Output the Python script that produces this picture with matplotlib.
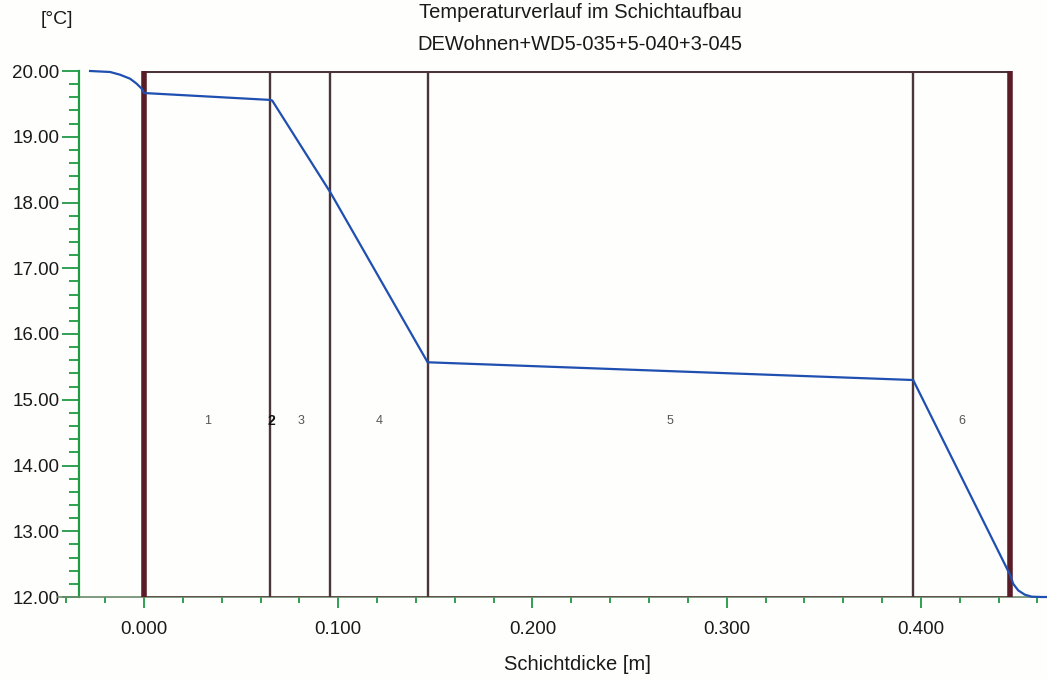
import matplotlib
matplotlib.use("Agg")
import matplotlib.pyplot as plt
from matplotlib.ticker import MultipleLocator, FormatStrFormatter

plt.rcParams['font.family'] = ['Liberation Sans', 'DejaVu Sans']

# ---- data ----
title = "Temperaturverlauf im Schichtaufbau"
subtitle = "DEWohnen+WD5-035+5-040+3-045"
x_label = "Schichtdicke [m]"
y_unit = "[°C]"

layer_bounds = [0.000, 0.065, 0.066, 0.096, 0.146, 0.396, 0.446]
layer_names = ["1", "2", "3", "4", "5", "6"]
label_temp = 14.67

# temperature curve
curve_x = [-0.0278, -0.0175, -0.0124, -0.0072, -0.0038, -0.0012, 0.000,
           0.065, 0.066, 0.096, 0.146, 0.396, 0.446,
           0.4475, 0.4501, 0.4535, 0.4570, 0.4621, 0.466]
curve_t = [20.00, 19.985, 19.944, 19.883, 19.807, 19.731, 19.665,
           19.56, 19.55, 18.15, 15.57, 15.30, 12.33,
           12.20, 12.10, 12.035, 12.005, 12.00, 12.00]

W, H = 1047, 679
fig = plt.figure(figsize=(W / 100, H / 100), dpi=100)
fig.patch.set_facecolor('#fefefc')
ax = fig.add_axes([58 / W, (H - 597) / H, (W - 58) / W, (597 - 71) / H])
ax.set_facecolor('#fefefc')
ax.set_xlim(-0.0443, 0.4649)
ax.set_ylim(12, 20)

green = '#1f9a45'
for s in ['top', 'right']:
    ax.spines[s].set_visible(False)
ax.spines['left'].set_position(('data', -0.0335))
ax.spines['left'].set_color(green)
ax.spines['left'].set_linewidth(1.6)
ax.spines['bottom'].set_color('#6a8a6a')
ax.spines['bottom'].set_linewidth(1.2)

ax.xaxis.set_major_locator(MultipleLocator(0.1))
ax.xaxis.set_minor_locator(MultipleLocator(0.02))
ax.xaxis.set_major_formatter(FormatStrFormatter('%.3f'))
ax.yaxis.set_major_locator(MultipleLocator(1.0))
ax.yaxis.set_minor_locator(MultipleLocator(0.2))
ax.yaxis.set_major_formatter(FormatStrFormatter('%.2f'))

ax.tick_params(axis='y', which='major', direction='out', length=12, width=1.3,
               color=green, labelsize=13.5, pad=2, labelcolor='#1a1a1a')
ax.tick_params(axis='y', which='minor', direction='out', length=7, width=1.3,
               color=green)
ax.tick_params(axis='x', which='major', direction='out', length=8, width=1.3,
               color=green, labelsize=13.5, pad=9, labelcolor='#1a1a1a')
ax.tick_params(axis='x', which='minor', direction='out', length=4.5, width=1.3,
               color=green)

# layer box
frame_col = '#4a3538'
outer_col = '#5a1c26'
ax.plot([layer_bounds[0], layer_bounds[-1]], [20, 20], color=frame_col, lw=2.2,
        solid_capstyle='butt', zorder=3)
ax.plot([layer_bounds[0], layer_bounds[-1]], [12, 12], color='#5a3a3e', lw=1.8,
        solid_capstyle='butt', zorder=3)
for i, b in enumerate(layer_bounds):
    if i == 0 or i == len(layer_bounds) - 1:
        ax.plot([b, b], [12, 20], color=outer_col, lw=4.0, zorder=3,
                solid_capstyle='butt')
    elif i == 2:
        continue
    else:
        ax.plot([b, b], [12, 20], color=frame_col, lw=1.7, zorder=3,
                solid_capstyle='butt')

for i, name in enumerate(layer_names):
    xm = (layer_bounds[i] + layer_bounds[i + 1]) / 2
    ax.text(xm, label_temp, name, ha='center', va='center',
            fontsize=10 if name == "2" else 9,
            color='#111111' if name == "2" else '#555555',
            fontweight='bold' if name == "2" else 'normal', zorder=4)

ax.plot(curve_x, curve_t, color='#1f4fb0', lw=1.6, zorder=5, clip_on=False)

# texts
cx = 580 / W
fig.text(cx, 1 - 3 / H, title, ha='center', va='top', fontsize=14.5,
         color='#1a1a1a')
fig.text(cx, 1 - 44 / H, subtitle, ha='center', va='center', fontsize=14.5,
         color='#1a1a1a')
fig.text(57 / W, 1 - 20 / H, y_unit, ha='center', va='center', fontsize=14,
         color='#1a1a1a')
fig.text(577 / W, 1 - 665 / H, x_label, ha='center', va='center', fontsize=14.5,
         color='#1a1a1a')

fig.savefig('out.png', dpi=100, facecolor=fig.get_facecolor())
